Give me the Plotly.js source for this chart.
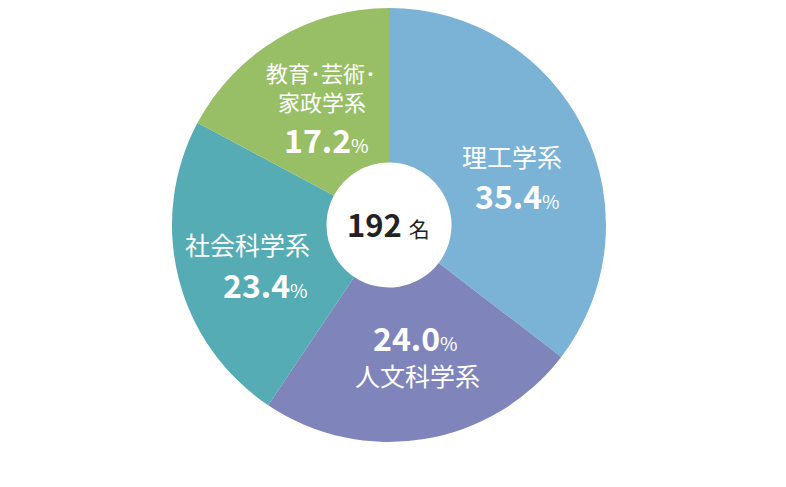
<!DOCTYPE html>
<html>
<head>
<meta charset="utf-8">
<script src="https://cdn.plot.ly/plotly-3.0.1.min.js"></script>
<style>html,body{margin:0;padding:0;background:#fff;}#chart{width:786px;height:487px;}</style>
</head>
<body>
<div id="chart"></div>
<script>
const categories = ["理工学系", "人文科学系", "社会科学系", "教育・芸術・家政学系"];
const values = [35.4, 24.0, 23.4, 17.2];
const colors = ["#7ab3d6", "#7f85bb", "#56acb4", "#98bf66"];
const labelLines = [["理工学系"], ["人文科学系"], ["社会科学系"], ["教育･芸術･", "家政学系"]];
const totalCount = 192;
const totalUnit = "名";

const W = 786, H = 487;
const font = "'Noto Sans CJK JP', 'Noto Sans', sans-serif";
function px(x){return x / W;}
function py(y){return 1 - y / H;}

function ann(text, x, y, size, color){
  return {
    text: text, x: px(x), y: py(y), xref: "paper", yref: "paper",
    xanchor: "center", yanchor: "middle", showarrow: false, borderpad: 0,
    font: {family: font, size: size, color: color}
  };
}
function pctText(v){
  return "<b>" + v.toFixed(1) + "</b><span style='font-size:19px'>%</span>";
}

// label line centres and number centres (pixels)
const namePos = [[[512,156]], [[417,375]], [[247,244]], [[321,72],[322,101]]];
const nameSize = [25, 25, 25, 22];
const numPos = [[517,195], [416,337], [265,284], [326,139]];

const annotations = [];
categories.forEach((c, i) => {
  labelLines[i].forEach((line, j) => {
    annotations.push(ann(line, namePos[i][j][0], namePos[i][j][1], nameSize[i], "#ffffff"));
  });
  annotations.push(ann(pctText(values[i]), numPos[i][0], numPos[i][1], 32, "#ffffff"));
});
annotations.push(ann("<b>" + totalCount + "</b> <span style='font-size:21px'>" + totalUnit + "</span>", 388, 224, 31, "#222222"));

const data = [{
  type: "pie",
  labels: categories,
  values: values,
  sort: false,
  direction: "clockwise",
  rotation: 0,
  hole: 0.288,
  textinfo: "none",
  marker: {colors: colors, line: {width: 0}},
  domain: {x: [172 / W, 606 / W], y: [1 - 442 / H, 1 - 8 / H]},
  showlegend: false,
  hoverinfo: "label+percent"
}];

const layout = {
  width: W, height: H,
  margin: {l: 0, r: 0, t: 0, b: 0},
  paper_bgcolor: "#ffffff",
  showlegend: false,
  font: {family: font},
  annotations: annotations
};

Plotly.newPlot("chart", data, layout, {displayModeBar: false, staticPlot: true});
</script>
</body>
</html>
